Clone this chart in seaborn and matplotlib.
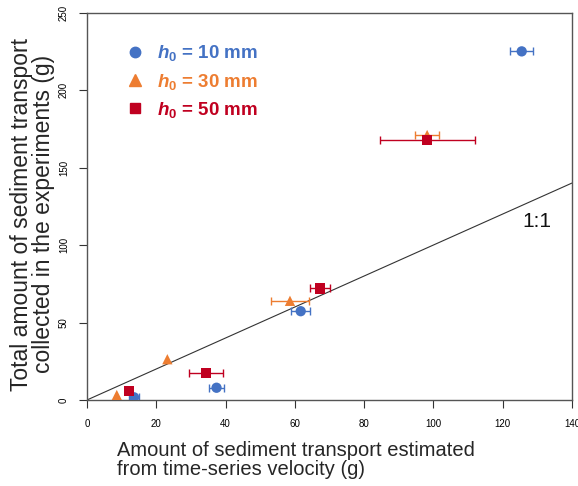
import numpy as np
import pandas as pd
import matplotlib
matplotlib.use("Agg")
import matplotlib.pyplot as plt
from matplotlib.lines import Line2D
import seaborn as sns

# values
depth_labels = ["10 mm", "30 mm", "50 mm"]
x_10 = [125.5, 61.7, 37.4, 13.6]
y_10 = [225.0, 57.3, 7.9, 1.7]
xerr_10 = [3.3, 2.7, 2.1, 1.5]
x_30 = [98.2, 58.6, 23.2, 8.6]
y_30 = [171.0, 64.0, 26.3, 3.2]
xerr_30 = [3.5, 5.4, 0.0, 0.0]
x_50 = [98.2, 67.3, 34.4, 12.2]
y_50 = [168.0, 72.0, 17.2, 6.0]
xerr_50 = [13.7, 3.0, 4.9, 0.0]
x_ticks = [0, 20, 40, 60, 80, 100, 120, 140]
y_ticks = [0, 50, 100, 150, 200, 250]

colors = ["#4472C4", "#ED7D31", "#C00020"]
markers = ["o", "^", "s"]

df = pd.DataFrame({
    "est": x_10 + x_30 + x_50,
    "obs": y_10 + y_30 + y_50,
    "err": xerr_10 + xerr_30 + xerr_50,
    "h0": [depth_labels[0]] * 4 + [depth_labels[1]] * 4 + [depth_labels[2]] * 4,
})

sns.set_style("ticks")
plt.rcParams["font.family"] = ["Liberation Sans", "DejaVu Sans"]
plt.rcParams["mathtext.fontset"] = "custom"
plt.rcParams["mathtext.it"] = "Liberation Sans:italic:bold"
plt.rcParams["mathtext.bf"] = "Liberation Sans:bold"
plt.rcParams["mathtext.rm"] = "Liberation Sans:bold"

fig = plt.figure(figsize=(5.78, 4.86), dpi=100)
ax = fig.add_axes([0.1505, 0.177, 0.839, 0.797])

# 1:1 line
ax.plot([0, 140], [0, 140], color="#333333", lw=0.8, zorder=1)
ax.text(130, 115, "1:1", fontsize=15, ha="center", va="center", color="#111111")

# error bars first, then markers on top
for i, lab in enumerate(depth_labels):
    sub = df[df["h0"] == lab]
    sub = sub[sub["err"] > 0]
    ax.errorbar(sub["est"], sub["obs"], xerr=sub["err"], fmt="none",
                ecolor=colors[i], elinewidth=1.0, capsize=3, capthick=1.0, zorder=2)

sns.scatterplot(data=df, x="est", y="obs", hue="h0", style="h0",
                palette=dict(zip(depth_labels, colors)),
                markers=dict(zip(depth_labels, markers)),
                s=55, edgecolor="none", legend=False, ax=ax, zorder=3)

ax.set_xlim(0, 140)
ax.set_ylim(0, 250)
ax.set_xticks(x_ticks)
ax.set_yticks(y_ticks)
ax.tick_params(axis="both", direction="out", length=6, width=0.8,
               labelsize=7, colors="#333333", labelcolor="black")
ax.tick_params(axis="x", pad=8)
ax.tick_params(axis="y", pad=7)
for t in ax.get_yticklabels():
    t.set_rotation(90)
    t.set_va("center")
for sp in ax.spines.values():
    sp.set_visible(True)
    sp.set_color("#555555")
    sp.set_linewidth(1.0)

ax.set_xlabel("Amount of sediment transport estimated\nfrom time-series velocity (g)",
              fontsize=14.5, ha="left", x=0.062, linespacing=1.05, labelpad=8)
ax.set_ylabel("Total amount of sediment transport\ncollected in the experiments (g)",
              fontsize=16.5, linespacing=0.95, labelpad=3, y=0.48)

handles = [Line2D([], [], ls="none", marker=m, color=c, markersize=8.5 if m == "^" else 7.5)
           for m, c in zip(markers, colors)]
labels = [r"$\mathit{h}_{\mathbf{0}}$ = " + d for d in depth_labels]
leg = ax.legend(handles, labels, loc="upper left", bbox_to_anchor=(0.04, 0.965),
                frameon=False, fontsize=13.5, handletextpad=0.6, labelspacing=0.45,
                handlelength=1.2, labelcolor=colors)
for t in leg.get_texts():
    t.set_fontweight("bold")

fig.savefig("out.png", dpi=100)
